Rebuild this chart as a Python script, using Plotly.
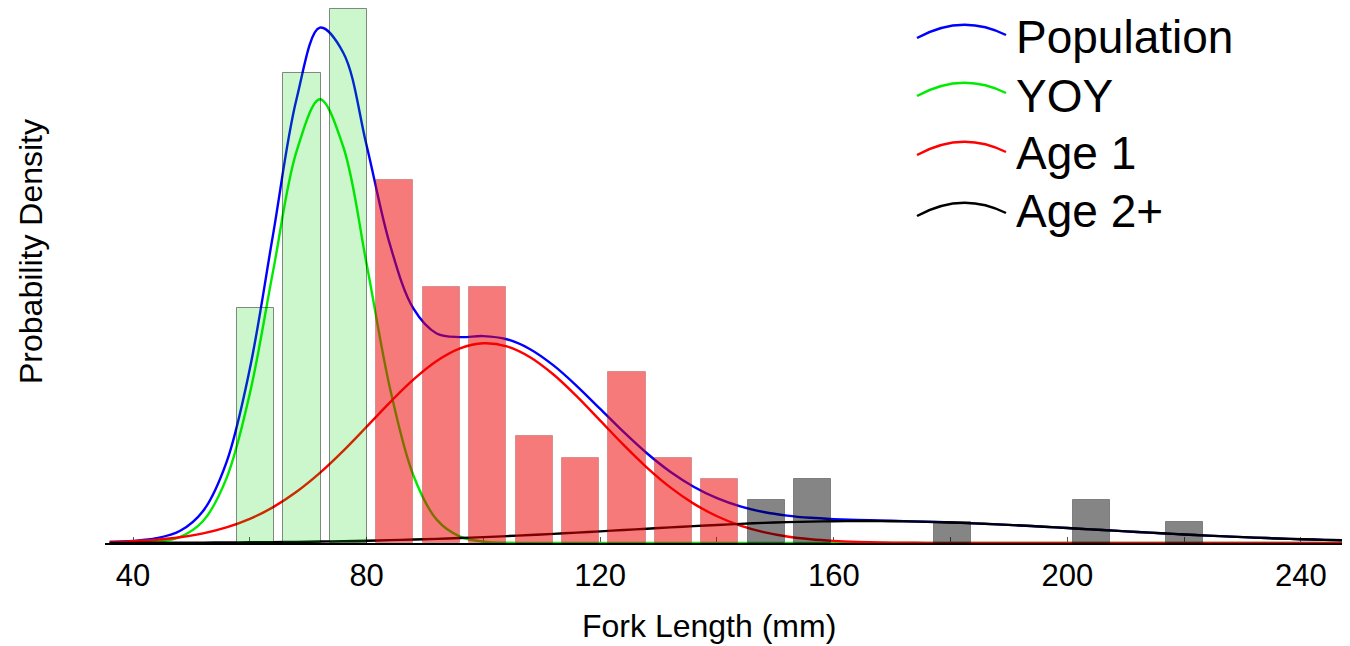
import plotly.graph_objects as go

# ---------------- data ----------------
# Histogram of fork lengths: bin centres (mm), counts, age class
bin_centers = [60.98, 68.93, 76.88, 84.83, 92.79, 100.74, 108.69, 116.64, 124.60, 132.55,
               140.50, 148.45, 156.40, 164.36, 172.31, 180.26, 188.21, 196.17, 204.12, 212.07, 220.02]
bin_counts = [11, 22, 25, 17, 12, 12, 5, 4, 8, 4, 3, 2, 3, 0, 0, 1, 0, 0, 2, 0, 1]
bin_group = ["YOY"] * 3 + ["Age 1"] * 8 + ["Age 2+"] * 10
bin_width = 7.952

# Fitted density curves (values x 1e-3 per mm) sampled along fork length (mm)
fork_grid = [36, 40, 44, 48, 52, 56, 60, 64, 68, 72, 76, 80, 84, 88, 92, 96, 100, 104, 108,
             112, 116, 120, 124, 128, 132, 136, 140, 144, 148, 152, 156, 160, 164, 168, 172,
             176, 180, 184, 188, 192, 196, 200, 204, 208, 212, 216, 220, 224, 228, 232, 236,
             240, 244, 248]
population = [0.049, 0.096, 0.212, 0.532, 1.431, 3.600, 7.770, 13.789, 19.802, 22.984, 21.868,
              17.730, 13.305, 10.460, 9.344, 9.184, 9.229, 9.087, 8.644, 7.921, 7.001, 5.980,
              4.954, 4.003, 3.178, 2.511, 2.000, 1.632, 1.382, 1.222, 1.124, 1.066, 1.029,
              1.002, 0.977, 0.949, 0.916, 0.875, 0.831, 0.780, 0.726, 0.668, 0.609, 0.550,
              0.491, 0.435, 0.381, 0.330, 0.284, 0.241, 0.203, 0.169, 0.139, 0.114]
yoy = [0.001, 0.009, 0.056, 0.263, 0.982, 2.881, 6.662, 12.149, 17.465, 19.790, 17.674,
       12.442, 6.905, 3.020, 1.041, 0.283, 0.061, 0.010, 0.001] + [0.0] * 35
age1 = [0.042, 0.080, 0.146, 0.256, 0.431, 0.695, 1.077, 1.600, 2.285, 3.128, 4.111, 5.185,
        6.274, 7.286, 8.118, 8.680, 8.907, 8.770, 8.287, 7.514, 6.538, 5.459, 4.374, 3.364,
        2.481, 1.757, 1.194, 0.778, 0.487, 0.292, 0.169, 0.093, 0.049, 0.025, 0.012, 0.006,
        0.003] + [0.0] * 17
age2 = [0.0054, 0.0074, 0.0101, 0.0136, 0.0181, 0.0239, 0.0313, 0.0404, 0.0518, 0.0657,
        0.0825, 0.1025, 0.1261, 0.1537, 0.1853, 0.2214, 0.2618, 0.3063, 0.3552, 0.4074,
        0.4628, 0.5205, 0.5796, 0.6389, 0.6974, 0.7535, 0.8061, 0.8539, 0.8954, 0.9296,
        0.9555, 0.9724, 0.9797, 0.9772, 0.9651, 0.9436, 0.9135, 0.8754, 0.8306, 0.7804,
        0.7258, 0.6683, 0.6093, 0.5499, 0.4914, 0.4347, 0.3808, 0.3303, 0.2835, 0.2410,
        0.2028, 0.1690, 0.1394, 0.1139]

x_ticks = [40, 80, 120, 160, 200, 240]

# ---------------- styles ----------------
FONT = "Liberation Sans, Arial, Helvetica, sans-serif"
X_RANGE = [35.2, 248.4]
Y_RANGE = [0, 0.023862]
curve_styles = [("Population", population, "rgb(0,0,255)"),
                ("YOY", yoy, "rgb(0,235,0)"),
                ("Age 1", age1, "rgb(255,0,0)"),
                ("Age 2+", age2, "rgb(0,0,0)")]
bar_colors = {"YOY": "rgba(0,210,0,0.2)",
              "Age 1": "rgba(240,0,0,0.52)",
              "Age 2+": "rgba(0,0,0,0.48)"}
bar_edges = {"YOY": "rgba(0,0,0,0.45)",
             "Age 1": "rgba(120,0,0,0.25)",
             "Age 2+": "rgba(0,0,0,0.35)"}

fig = go.Figure()

# curves on the base axes
for name, vals, col in curve_styles:
    fig.add_trace(go.Scatter(
        x=fork_grid, y=[v * 1e-3 for v in vals], mode="lines", name=name,
        line=dict(color=col, width=2.4, shape="spline", smoothing=1.0),
        showlegend=False, xaxis="x", yaxis="y"))

# histogram bars (probability density) on overlay axes so they sit above the curves
n_total = sum(bin_counts)
for grp in ["YOY", "Age 1", "Age 2+"]:
    xs = [c for c, n, g in zip(bin_centers, bin_counts, bin_group) if g == grp and n > 0]
    ys = [n / (n_total * bin_width) for n, g in zip(bin_counts, bin_group) if g == grp and n > 0]
    fig.add_trace(go.Bar(
        x=xs, y=ys, width=0.8 * bin_width, name=grp + " bins",
        marker=dict(color=bar_colors[grp], line=dict(color=bar_edges[grp], width=1)),
        showlegend=False, xaxis="x2", yaxis="y2"))

# ---------------- layout ----------------
# page body has an 8px margin: figure is sized so the plot area ends at the window edge
OFF = 8
W, H = 1342, 638
ML, MR, MT, MB = 97, 0, 0, 103
PW, PH = W - ML - MR, H - MT - MB


def px_x(sx):
    return (sx - OFF - ML) / PW


def px_y(sy):
    return (MT + PH - (sy - OFF)) / PH


shapes = []
annotations = []
# (label, colour, symbol baseline y, text centre y) in window pixels
legend_rows = [("Population", "rgb(0,0,255)", 38, 37),
               ("YOY", "rgb(0,235,0)", 96, 96),
               ("Age 1", "rgb(255,0,0)", 155, 153),
               ("Age 2+", "rgb(0,0,0)", 216, 211)]
for name, col, cy, ty in legend_rows:
    x0, xc, x1 = px_x(917), px_x(962), px_x(1006)
    y0, yc, y1 = px_y(cy), px_y(cy - 25), px_y(cy - 3)
    shapes.append(dict(type="path", xref="paper", yref="paper",
                       path=f"M {x0},{y0} Q {xc},{yc} {x1},{y1}",
                       line=dict(color=col, width=2.5)))
    annotations.append(dict(text=name, x=px_x(1014), y=px_y(ty), xref="paper", yref="paper",
                            xanchor="left", yanchor="middle", showarrow=False,
                            font=dict(family=FONT, size=46, color="black")))

annotations.append(dict(text="Fork Length (mm)", x=px_x(709), y=px_y(626), xref="paper",
                        yref="paper", xanchor="center", yanchor="middle", showarrow=False,
                        font=dict(family=FONT, size=32, color="black")))
annotations.append(dict(text="Probability Density", x=px_x(31), y=px_y(252), xref="paper",
                        yref="paper", xanchor="center", yanchor="middle", showarrow=False,
                        textangle=-90, font=dict(family=FONT, size=32, color="black")))

fig.update_layout(
    width=W, height=H,
    margin=dict(l=ML, r=MR, t=MT, b=MB, pad=0),
    paper_bgcolor="white", plot_bgcolor="white",
    barmode="overlay", bargap=0,
    xaxis=dict(range=X_RANGE, showgrid=False, zeroline=False, showline=True,
               linecolor="black", linewidth=2, layer="below traces",
               tickmode="array", tickvals=x_ticks, ticktext=[str(t) for t in x_ticks],
               ticks="inside", ticklen=6, tickwidth=1, tickcolor="#555",
               ticklabelstandoff=4,
               minor=dict(dtick=20, tick0=40, ticks="inside", ticklen=6, tickwidth=1,
                          tickcolor="#555", showgrid=False),
               tickfont=dict(family=FONT, size=31, color="black"), fixedrange=True),
    yaxis=dict(range=Y_RANGE, visible=False, showgrid=False, zeroline=False, fixedrange=True),
    xaxis2=dict(range=X_RANGE, overlaying="x", visible=False, showgrid=False,
                zeroline=False, fixedrange=True),
    yaxis2=dict(range=Y_RANGE, overlaying="y", visible=False, showgrid=False,
                zeroline=False, fixedrange=True),
    shapes=shapes, annotations=annotations,
    font=dict(family=FONT, color="black"),
)

fig.write_html("out.html")
